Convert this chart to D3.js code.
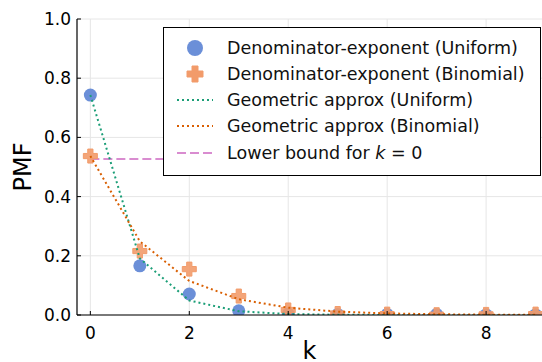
<!DOCTYPE html>
<html><head><meta charset="utf-8">
<script src="https://cdn.jsdelivr.net/npm/d3@7"></script>
<style>body{margin:0;background:#fff}svg{display:block;font-family:"DejaVu Sans",sans-serif}</style>
</head><body>
<svg id="c" width="542" height="362"></svg>
<script>
const ks = [0,1,2,3,4,5,6,7,8,9];
const uniformPMF = [0.743,0.166,0.071,0.014,0.003,0.002,0.002,0.002,0.0005,0.0005];
const binomialPMF = [0.537,0.216,0.155,0.064,0.017,0.005,0.003,0.001,0.002,0.003];
const geomUniform = [0.743,0.191,0.049,0.0126,0.0032,0.0008,0.0002,0.0001,0.0,0.0];
const geomBinomial = [0.537,0.249,0.115,0.0533,0.0247,0.0114,0.0053,0.0025,0.0011,0.0005];
const lowerBound = 0.527;
const xTicks = [0,2,4,6,8];
const yTicks = [0,0.2,0.4,0.6,0.8,1.0];
const legendLabels = ["Denominator-exponent (Uniform)","Denominator-exponent (Binomial)","Geometric approx (Uniform)","Geometric approx (Binomial)","Lower bound for "];

const svg = d3.select("#c");
const L=77, R=542, T=19, B=315;
const x = d3.scaleLinear().domain([-0.27,9.13]).range([L,R]);
const y = d3.scaleLinear().domain([0,1]).range([B,T]);

const blue="#6b8fd8", orangeM="#f29b6a", green="#1b9e77", orangeL="#d95f02", pink="#d98cd0";

// grid
svg.append("g").selectAll("line").data(xTicks).join("line")
  .attr("x1",d=>x(d)).attr("x2",d=>x(d)).attr("y1",T).attr("y2",B)
  .attr("stroke","#e6e6e6").attr("stroke-width",1);
svg.append("g").selectAll("line").data(yTicks).join("line")
  .attr("x1",L).attr("x2",R).attr("y1",d=>y(d)).attr("y2",d=>y(d))
  .attr("stroke","#e6e6e6").attr("stroke-width",1);

svg.append("clipPath").attr("id","cp").append("rect").attr("x",L).attr("y",T-10).attr("width",R-L).attr("height",B-T+10);
const plot = svg.append("g").attr("clip-path","url(#cp)");

const line = d3.line().x((d,i)=>x(ks[i])).y(d=>y(d));
// lower bound
plot.append("line").attr("x1",x(0)).attr("x2",x(9)).attr("y1",y(lowerBound)).attr("y2",y(lowerBound))
  .attr("stroke",pink).attr("stroke-width",2.2).attr("stroke-dasharray","9,4");
// markers
plot.append("g").selectAll("circle").data(uniformPMF).join("circle")
  .attr("cx",(d,i)=>x(ks[i])).attr("cy",d=>y(d)).attr("r",6.5).attr("fill",blue);
const cross = "M-2.6,-7H2.6V-2.6H7V2.6H2.6V7H-2.6V2.6H-7V-2.6H-2.6Z";
plot.append("g").selectAll("path").data(binomialPMF).join("path")
  .attr("d",cross).attr("transform",(d,i)=>`translate(${x(ks[i])},${y(d)})`)
  .attr("fill",orangeM).attr("fill-opacity",0.9).attr("stroke",orangeM).attr("stroke-width",1).attr("stroke-linejoin","round");
// geometric lines
plot.append("path").datum(geomUniform).attr("d",line).attr("fill","none")
  .attr("stroke",green).attr("stroke-width",2).attr("stroke-dasharray","2,3");
plot.append("path").datum(geomBinomial).attr("d",line).attr("fill","none")
  .attr("stroke",orangeL).attr("stroke-width",2).attr("stroke-dasharray","2,3");

// axes
svg.append("line").attr("x1",L).attr("x2",L).attr("y1",T).attr("y2",B).attr("stroke","#000").attr("stroke-width",1.2);
svg.append("line").attr("x1",L).attr("x2",R).attr("y1",B).attr("y2",B).attr("stroke","#000").attr("stroke-width",1.2);
svg.append("g").selectAll("line").data(yTicks).join("line")
  .attr("x1",L).attr("x2",L+4).attr("y1",d=>y(d)).attr("y2",d=>y(d)).attr("stroke","#000");
svg.append("g").selectAll("line").data(xTicks).join("line")
  .attr("x1",d=>x(d)).attr("x2",d=>x(d)).attr("y1",B).attr("y2",B-4).attr("stroke","#000");
svg.append("g").selectAll("text").data(yTicks).join("text")
  .attr("x",L-6).attr("y",d=>y(d)).attr("dy","0.35em").attr("text-anchor","end")
  .attr("font-size",17).text(d=>d.toFixed(1));
svg.append("g").selectAll("text").data(xTicks).join("text")
  .attr("x",d=>x(d)).attr("y",B+18).attr("dy","0.35em").attr("text-anchor","middle")
  .attr("font-size",17).text(d=>d);
svg.append("text").attr("transform",`translate(31,${(T+B)/2}) rotate(-90)`).attr("text-anchor","middle")
  .attr("font-size",24).text("PMF");
svg.append("text").attr("x",(L+R)/2).attr("y",359).attr("text-anchor","middle").attr("font-size",24).text("k");

// legend
const lg = svg.append("g");
lg.append("rect").attr("x",163.5).attr("y",27.5).attr("width",377).attr("height",148).attr("fill","#fff").attr("stroke","#000").attr("stroke-width",1);
const rows = [48,74,100,126,153];
const mx=195;
lg.append("circle").attr("cx",mx).attr("cy",rows[0]).attr("r",8).attr("fill",blue);
lg.append("path").attr("d","M-3,-8H3V-3H8V3H3V8H-3V3H-8V-3H-3Z").attr("transform",`translate(${mx},${rows[1]})`).attr("fill",orangeM).attr("stroke",orangeM).attr("stroke-linejoin","round");
lg.append("line").attr("x1",177).attr("x2",213).attr("y1",rows[2]).attr("y2",rows[2]).attr("stroke",green).attr("stroke-width",2).attr("stroke-dasharray","2,3");
lg.append("line").attr("x1",177).attr("x2",213).attr("y1",rows[3]).attr("y2",rows[3]).attr("stroke",orangeL).attr("stroke-width",2).attr("stroke-dasharray","2,3");
lg.append("line").attr("x1",177).attr("x2",213).attr("y1",rows[4]).attr("y2",rows[4]).attr("stroke",pink).attr("stroke-width",2.2).attr("stroke-dasharray","9,4");
legendLabels.forEach((t,i)=>{
  const tx = lg.append("text").attr("x",227).attr("y",rows[i]).attr("dy","0.35em").attr("font-size",17.5).attr("fill","#111").text(t);
  if(i===4){
    tx.append("tspan").attr("font-style","italic").text("k");
    tx.append("tspan").text(" = 0");
  }
});
</script>
</body></html>
